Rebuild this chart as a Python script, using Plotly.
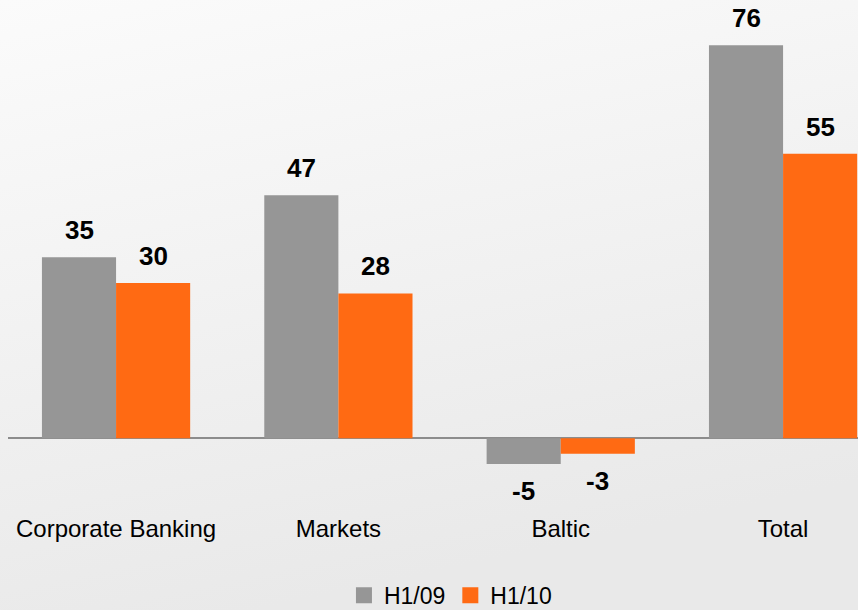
import base64
import plotly.graph_objects as go

categories = ["Corporate Banking", "Markets", "Baltic", "Total"]
series_names = ["H1/09", "H1/10"]
h1_09 = [35, 47, -5, 76]
h1_10 = [30, 28, -3, 55]
colors = ["#969696", "#ff6a13"]

W, H = 858, 610
plot_left, plot_right, plot_top, plot_bottom = 8, 858, 10, 508
x_range = [-0.486, 3.337]
y_range = [-13.5, 82.8]
FONT = "Liberation Sans, Arial"

fig = go.Figure()
for name, vals, col in zip(series_names, [h1_09, h1_10], colors):
    fig.add_trace(go.Bar(name=name, x=categories, y=vals, marker_color=col,
                         marker_line_width=0, showlegend=False))
    # legend entry drawn with a larger square swatch
    fig.add_trace(go.Scatter(name=name, x=[None], y=[None], mode="markers",
                             marker=dict(symbol="square", size=17, color=col),
                             showlegend=True))

# value labels above (or below for negatives) each bar
bar_px = (plot_right - plot_left) / (x_range[1] - x_range[0]) * (1 - 1/3) / 2
for i, vals in enumerate([h1_09, h1_10]):
    offset = (-0.5 if i == 0 else 0.5) * bar_px
    for c, v in zip(categories, vals):
        fig.add_annotation(x=c, y=v, text=f"<b>{v}</b>", showarrow=False,
                           xshift=offset,
                           yanchor="bottom" if v >= 0 else "top",
                           yshift=10 if v >= 0 else -10,
                           font=dict(family=FONT, size=26, color="#000"))

svg = f'''<svg xmlns="http://www.w3.org/2000/svg" width="{W}" height="{H}">
<defs><linearGradient id="g" x1="0" y1="0" x2="0.3" y2="1">
<stop offset="0" stop-color="#fbfbfb"/><stop offset="1" stop-color="#e9e9e9"/>
</linearGradient></defs><rect width="{W}" height="{H}" fill="url(#g)"/></svg>'''
src = "data:image/svg+xml;base64," + base64.b64encode(svg.encode()).decode()
pw, ph = plot_right - plot_left, plot_bottom - plot_top
fig.add_layout_image(source=src, xref="paper", yref="paper",
                     x=-plot_left / pw, y=1 + plot_top / ph,
                     sizex=W / pw, sizey=H / ph, sizing="stretch",
                     xanchor="left", yanchor="top", layer="below")

fig.update_layout(
    width=W, height=H,
    margin=dict(l=plot_left, r=W - plot_right, t=plot_top, b=H - plot_bottom, pad=0),
    barmode="group", bargap=1/3, bargroupgap=0,
    paper_bgcolor="#eeeeee", plot_bgcolor="rgba(0,0,0,0)",
    font=dict(family=FONT, color="#000"),
    showlegend=True,
    legend=dict(orientation="h", xref="container", yref="container",
                x=0.525, xanchor="center", y=0.024, yanchor="middle",
                font=dict(size=23), bgcolor="rgba(0,0,0,0)",
                itemsizing="trace", itemwidth=30, tracegroupgap=0),
)
fig.update_xaxes(range=x_range, showgrid=False, showline=False, ticks="",
                 tickfont=dict(size=24), ticklabelstandoff=4)
fig.update_yaxes(range=y_range, showgrid=False, showticklabels=False,
                 zeroline=True, zerolinecolor="#8c8c8c", zerolinewidth=2)

fig.write_html("out.html")
